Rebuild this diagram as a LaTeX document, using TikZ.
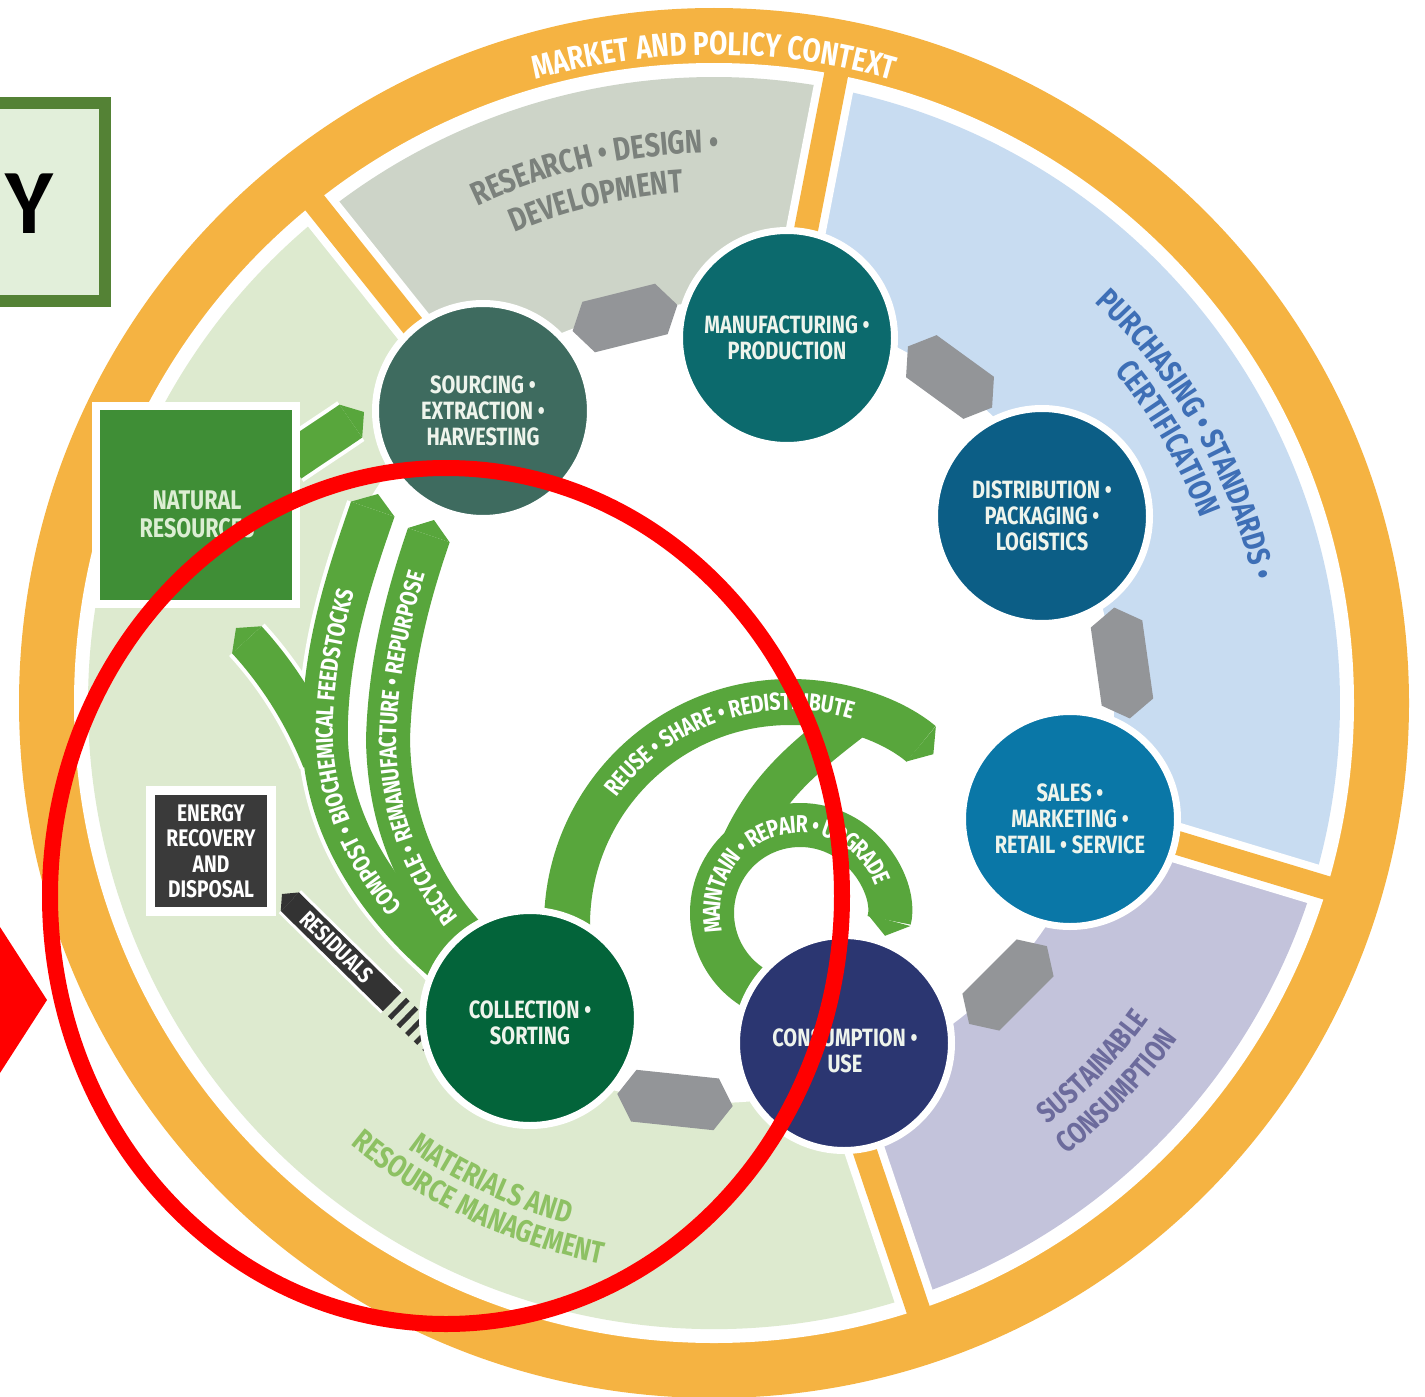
\documentclass[tikz,border=0pt]{standalone}
\usepackage{fontspec}
\setmainfont{Fira Sans}
\newfontfamily\cf[FakeStretch=0.8]{Fira Sans}
\newfontfamily\yf{Carlito}
\usetikzlibrary{decorations.text,arrows.meta,shapes.symbols}
\definecolor{orng}{HTML}{F5B342}
\definecolor{matg}{HTML}{DDEACF}
\definecolor{grys}{HTML}{CDD4C8}
\definecolor{blus}{HTML}{C8DCF1}
\definecolor{lavs}{HTML}{C3C3DB}
\definecolor{chevc}{HTML}{939598}
\definecolor{bandg}{HTML}{58A63C}
\definecolor{nrg}{HTML}{3F8E36}
\definecolor{enb}{HTML}{3A3A3A}
\definecolor{resc}{HTML}{333333}
\definecolor{csrc}{HTML}{3E6B5F}
\definecolor{cman}{HTML}{0C6A6D}
\definecolor{cdis}{HTML}{0C5E86}
\definecolor{csal}{HTML}{0A77A7}
\definecolor{ccon}{HTML}{2B3671}
\definecolor{ccol}{HTML}{03643A}
\definecolor{ctext}{HTML}{EEF4EC}
\definecolor{nrtext}{HTML}{DCEED3}
\definecolor{txres}{HTML}{7B817C}
\definecolor{txpur}{HTML}{3E6FB6}
\definecolor{txsus}{HTML}{6C6B9C}
\definecolor{txmat}{HTML}{8DC163}
\definecolor{ybord}{HTML}{548235}
\definecolor{yfill}{HTML}{E2EFDA}
\begin{document}
\begin{tikzpicture}[x=1pt,y=-1pt,
  proc/.style={circle,draw=white,line width=7pt,minimum size=215pt,inner sep=0pt,align=center,text=ctext,font=\cf\bfseries\fontsize{25}{26}\selectfont},
  ptext/.style={align=center,text=ctext,font=\cf\bfseries\fontsize{25}{26}\selectfont,inner sep=0pt},
  chev/.style={signal,signal to=east and west,signal pointer angle=115,fill=chevc,draw=none,minimum width=#1,minimum height=52pt,inner sep=0pt},
  wb/.style={draw=white,line width=#1,shorten >=16pt},
  wbn/.style={draw=white,line width=#1},
  gb/.style={draw=bandg,line width=#1,-{Triangle[width=#1,length=16pt,line width=0pt]}},
  gbn/.style={draw=bandg,line width=#1},
  btext/.style={decorate,decoration={text along path,text align=center,raise=-8pt,text={|\cf\bfseries\fontsize{24.5}{24.5}\selectfont\color{white}|#1}}},
  slab/.style={decorate,decoration={text along path,text align=center,text={#1}}}
]
\useasboundingbox (0,0) rectangle (1425,1397);
\coordinate (C) at (714,703);
\coordinate (RC) at (790,925);
\coordinate (MC) at (800,913);
% outer ring
\fill[orng] (C) circle[radius=695];
\fill[white] (C) circle[radius=640];
% sectors
\fill[matg] (C) -- ([shift={(71.4:626)}]C) arc[start angle=71.4,end angle=231.4,radius=626] -- cycle;
\fill[grys] (C) -- ([shift={(-128.6:626)}]C) arc[start angle=-128.6,end angle=-79,radius=626] -- cycle;
\fill[blus] (C) -- ([shift={(-79:626)}]C) arc[start angle=-79,end angle=16.8,radius=626] -- cycle;
\fill[lavs] (C) -- ([shift={(16.8:626)}]C) arc[start angle=16.8,end angle=71.4,radius=626] -- cycle;
% spokes
\foreach \a in {-128.6,-79,16.8,71.4}{
  \draw[white,line width=40pt] ([shift={(\a:420)}]C) -- ([shift={(\a:633)}]C);
  \draw[orng,line width=24pt] ([shift={(\a:420)}]C) -- ([shift={(\a:662)}]C);
}
\fill[white] (C) circle[radius=400];
% sector labels
\path[slab={|\cf\bfseries\fontsize{33}{33}\selectfont\color{white}|MARKET AND POLICY CONTEXT}] ([shift={(-125:648)}]C) arc[start angle=-125,end angle=-55,radius=648];
\path[slab={|\cf\bfseries\fontsize{33}{33}\selectfont\color{txres}|RESEARCH • DESIGN •}] ([shift={(-132.5:550)}]C) arc[start angle=-132.5,end angle=-72.5,radius=550];
\path[slab={|\cf\bfseries\fontsize{33}{33}\selectfont\color{txres}|DEVELOPMENT}] ([shift={(-133.2:511)}]C) arc[start angle=-133.2,end angle=-73.2,radius=511];
\path[slab={|\cf\bfseries\fontsize{32}{32}\selectfont\color{txpur}|PURCHASING • STANDARDS •}] ([shift={(-59.6:553)}]C) arc[start angle=-59.6,end angle=0.4,radius=553];
\path[slab={|\cf\bfseries\fontsize{32}{32}\selectfont\color{txpur}|CERTIFICATION}] ([shift={(-60.2:520)}]C) arc[start angle=-60.2,end angle=-0.2,radius=520];
\path[slab={|\cf\bfseries\fontsize{30}{30}\selectfont\color{txsus}|SUSTAINABLE}] ([shift={(73.8:538)}]C) arc[start angle=73.8,end angle=13.8,radius=538];
\path[slab={|\cf\bfseries\fontsize{30}{30}\selectfont\color{txsus}|CONSUMPTION}] ([shift={(74:573)}]C) arc[start angle=74,end angle=14,radius=573];
\path[slab={|\cf\bfseries\fontsize{31}{31}\selectfont\color{txmat}|MATERIALS AND}] ([shift={(145:541)}]C) arc[start angle=145,end angle=85,radius=541];
\path[slab={|\cf\bfseries\fontsize{31}{31}\selectfont\color{txmat}|RESOURCE MANAGEMENT}] ([shift={(145.4:572)}]C) arc[start angle=145.4,end angle=85.4,radius=572];
% gray chevrons
\node[chev=108pt,rotate=14] (g1) at (625,318) {};
\node[chev=104pt,rotate=-36] (g2) at (950,377) {};
\node[chev=112pt,rotate=-82] (g3) at (1122,663) {};
\node[chev=110pt,rotate=45] (g4) at (1008,985) {};
\node[chev=116pt,rotate=-6] (g5) at (675,1100) {};
% band end points
\coordinate (ns) at (290,462); \coordinate (nt) at (364,412);
\coordinate (cs) at (470,980); \coordinate (ct) at (378,494);
\coordinate (rs) at (488,962); \coordinate (rt) at (434,520);
\coordinate (ys) at (322,760); \coordinate (yt) at (236,628);
\coordinate (bs) at (738,851); \coordinate (be) at (855,718);
% white outlines of bands
\draw[wb=48pt] (ns) .. controls (315,445) and (335,432) .. (nt);
\draw[wb=48pt] (ys) .. controls (300,705) and (270,665) .. (yt);
\draw[wb=54pt] (cs) .. controls (390,920) and (320,830) .. (325,720) .. controls (328,640) and (350,575) .. (ct);
\draw[wb=52pt] (rs) .. controls (440,915) and (390,850) .. (388,740) .. controls (390,660) and (410,590) .. (rt);
\draw[wb=54pt] ([shift={(-183:223)}]RC) arc[start angle=-183,end angle=-50,radius=223];
\draw[wb=52pt] ([shift={(120:88)}]MC) arc[start angle=120,end angle=375,radius=88];
\draw[wbn=48pt] (bs) .. controls (765,790) and (800,760) .. (be);
% green bands
\draw[gb=40pt] (ns) .. controls (315,445) and (335,432) .. (nt);
\draw[gb=40pt] (ys) .. controls (300,705) and (270,665) .. (yt);
\draw[gb=46pt] (cs) .. controls (390,920) and (320,830) .. (325,720) .. controls (328,640) and (350,575) .. (ct);
\draw[gb=44pt] (rs) .. controls (440,915) and (390,850) .. (388,740) .. controls (390,660) and (410,590) .. (rt);
\draw[gb=46pt] ([shift={(-183:223)}]RC) arc[start angle=-183,end angle=-50,radius=223];
\draw[gb=44pt] ([shift={(120:88)}]MC) arc[start angle=120,end angle=375,radius=88];
\draw[gbn=40pt] (bs) .. controls (765,790) and (800,760) .. (be);
% band texts
\path[btext={COMPOST • BIOCHEMICAL FEEDSTOCKS}] (cs) .. controls (390,920) and (320,830) .. (325,720) .. controls (328,640) and (350,575) .. (ct);
\path[btext={RECYCLE • REMANUFACTURE • REPURPOSE}] (rs) .. controls (440,915) and (390,850) .. (388,740) .. controls (390,660) and (410,590) .. (rt);
\path[btext={REUSE • SHARE • REDISTRIBUTE}] ([shift={(-160:223)}]RC) arc[start angle=-160,end angle=-57,radius=223];
\path[btext={MAINTAIN • REPAIR • UPGRADE}] ([shift={(150:88)}]MC) arc[start angle=150,end angle=357,radius=88];
% residuals
\coordinate (qs) at (392,1002); \coordinate (qt) at (282,894);
\coordinate (qs2) at (397,1007); \coordinate (qe) at (436,1045);
\draw[white,line width=32pt,shorten >=11pt] (qs) -- (qt);
\draw[resc,line width=26pt,-{Triangle[width=26pt,length=11pt,line width=0pt]}] (qs) -- (qt);
\draw[resc,line width=26pt,dash pattern=on 5pt off 7pt] (qs2) -- (qe);
\node[rotate=-44,text=white,font=\cf\bfseries\fontsize{23}{23}\selectfont,inner sep=0pt] (rtx) at (337,947) {RESIDUALS};
% process circles
\node[proc,fill=csrc] (src) at (483,411) {SOURCING •\\EXTRACTION •\\HARVESTING};
\node[proc,fill=cman] (man) at (787,338) {MANUFACTURING •\\PRODUCTION};
\node[proc,fill=cdis] (dis) at (1042,516) {DISTRIBUTION •\\PACKAGING •\\LOGISTICS};
\node[proc,fill=csal] (sal) at (1070,819) {SALES •\\MARKETING •\\RETAIL • SERVICE};
\node[proc,fill=ccon] (con) at (844,1043) {};
\node[ptext] (cont) at (845,1051) {CONSUMPTION •\\USE};
\node[proc,fill=ccol] (col) at (530,1018) {};
\node[ptext] (colt) at (530,1023) {COLLECTION •\\SORTING};
% boxes
\node[draw=white,line width=8pt,fill=nrg,minimum width=200pt,minimum height=198pt,inner sep=0pt] (nr) at (196,505) {};
\node[align=center,text=nrtext,font=\cf\bfseries\fontsize{27}{28}\selectfont] (nrt) at (197,514) {NATURAL\\RESOURCES};
\node[draw=white,line width=9pt,fill=enb,minimum size=121pt,inner sep=0pt,align=center,text=white,font=\cf\bfseries\fontsize{24}{25.5}\selectfont] (en) at (211,851) {ENERGY\\RECOVERY\\AND\\DISPOSAL};
% Y box
\node[draw=ybord,line width=12pt,fill=yfill,minimum width=140pt,minimum height=198pt,inner sep=0pt] (ybox) at (35,202) {};
\node[font=\yf\bfseries\fontsize{92}{92}\selectfont,anchor=base,inner sep=0pt] (ytx) at (29,233) {Y};
% red marks
\draw[red,line width=16pt] (446,896) ellipse[x radius=396,y radius=428];
\fill[red] (0,927) -- (47,1000) -- (0,1073) -- cycle;
\end{tikzpicture}
\end{document}
